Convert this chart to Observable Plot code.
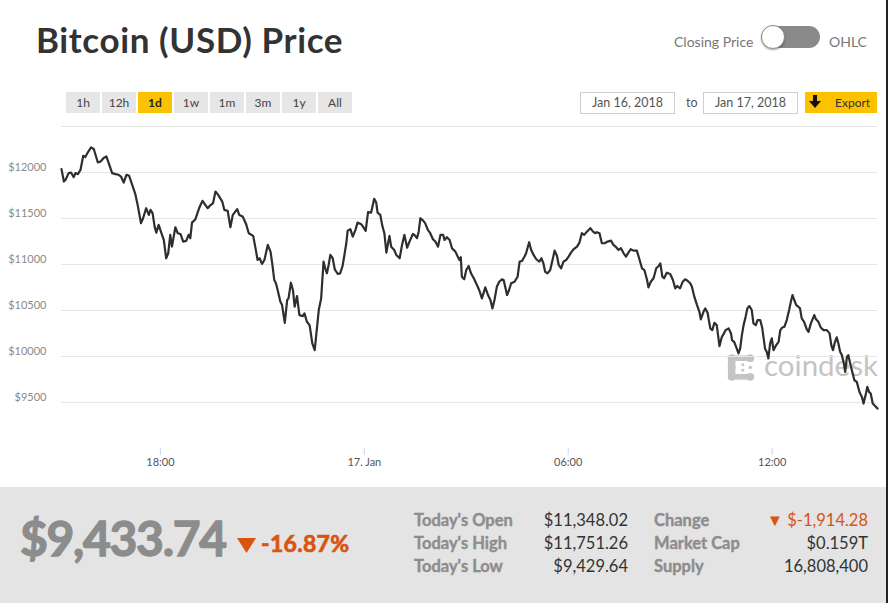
<!DOCTYPE html>
<html>
<head>
<meta charset="utf-8">
<script src="https://cdn.jsdelivr.net/npm/d3@7"></script>
<script src="https://cdn.jsdelivr.net/npm/@observablehq/plot@0.6"></script>
<style>
  body { margin: 0; background: #fff; }
  #page { position: relative; width: 888px; height: 603px; overflow: hidden; font-family: Lato, "Open Sans", sans-serif; background: #fff; }
  .abs { position: absolute; white-space: nowrap; }
  .btn { position: absolute; top: 92px; width: 34px; height: 21px; background: #e6e6e6; color: #444; font-size: 12px; line-height: 21px; text-align: center; }
  .btn.on { background: #fcc200; font-weight: 700; color: #222; }
  .datebox { position: absolute; top: 92px; height: 20px; border: 1px solid #cfcfcf; background: #fff; color: #555; font-size: 12.5px; line-height: 20px; text-align: center; }
  .lab { position: absolute; font-weight: 700; color: #8d8d8d; font-size: 16.5px; line-height: 20px; -webkit-text-stroke: 0.4px #8d8d8d; }
  .val { position: absolute; color: #333; font-size: 16.5px; line-height: 20px; text-align: right; }
  #chart { position: absolute; left: 0; top: 120px; z-index: 1; }
</style>
</head>
<body>
<div id="page">
  <div class="abs" style="left:36px;top:14px;font-size:35px;font-weight:700;color:#333;letter-spacing:0.6px;line-height:50px;">Bitcoin (USD) Price</div>

  <div class="abs" style="left:674px;top:33px;font-size:14px;color:#777;line-height:18px;">Closing Price</div>
  <div class="abs" style="left:762px;top:26px;width:58px;height:22px;border-radius:11px;background:#8a8a8a;"></div>
  <div class="abs" style="left:761px;top:25px;width:22px;height:22px;border-radius:12px;background:#fff;border:1px solid #8a8a8a;box-shadow:0 1px 2px rgba(0,0,0,0.35);"></div>
  <div class="abs" style="left:829px;top:33px;font-size:14px;color:#777;line-height:18px;">OHLC</div>

  <div id="buttons"></div>

  <div class="datebox" style="left:580px;width:93px;">Jan 16, 2018</div>
  <div class="abs" style="left:686px;top:93px;font-size:12.5px;color:#555;line-height:20px;">to</div>
  <div class="datebox" style="left:703px;width:93px;">Jan 17, 2018</div>
  <div class="abs" style="left:805px;top:92px;width:72px;height:21px;background:#fcc200;"></div>
  <svg class="abs" style="left:809px;top:95px;" width="12" height="14" viewBox="0 0 12 14">
    <rect x="4" y="0" width="4" height="7" fill="#111"/>
    <polygon points="0,6 12,6 6,13" fill="#111"/>
  </svg>
  <div class="abs" style="left:835px;top:92px;font-size:12px;color:#333;line-height:21px;">Export</div>

  <!-- watermark -->
  <svg class="abs" style="left:727px;top:353px;z-index:0;" width="28" height="29" viewBox="0 0 30 30">
    <g fill="#c4c4c4">
      <circle cx="5" cy="5" r="4.2"/><circle cx="25" cy="5" r="4.2"/>
      <rect x="5" y="2" width="20" height="6"/>
      <circle cx="5" cy="25" r="4.2"/><circle cx="25" cy="25" r="4.2"/>
      <rect x="5" y="22" width="20" height="6"/>
      <rect x="1" y="5" width="8" height="20" rx="3"/>
      <circle cx="5" cy="15" r="4.2"/>
      <circle cx="17" cy="12" r="1.6"/><circle cx="17" cy="18" r="1.6"/>
      <circle cx="25" cy="15" r="1.8"/>
    </g>
  </svg>
  <div class="abs" style="left:764px;top:346px;font-size:29.5px;color:#c4c4c4;line-height:38px;z-index:0;">coindesk</div>

  <div id="chart"></div>

  <!-- bottom panel -->
  <div class="abs" style="left:0;top:487px;width:886px;height:116px;background:#e4e4e4;"></div>
  <div class="abs" style="left:20px;top:508px;font-size:48px;font-weight:700;color:#8c8c8c;letter-spacing:-1.3px;line-height:60px;-webkit-text-stroke:1.3px #8c8c8c;">$9,433.74</div>
  <svg class="abs" style="left:237px;top:538px;" width="19" height="15" viewBox="0 0 19 15"><polygon points="0,0 19,0 9.5,15" fill="#d9540f"/></svg>
  <div class="abs" style="left:261px;top:528px;font-size:23px;font-weight:700;color:#d9540f;line-height:30px;letter-spacing:0.3px;-webkit-text-stroke:0.7px #d9540f;">-16.87%</div>

  <div id="stats"></div>

  <div class="abs" style="left:886px;top:0;width:2px;height:603px;background:#222;"></div>
</div>

<script>
// ---- data (hours since 2018-01-16 00:00 UTC, closing price in USD) ----
const hours = [
  15.09,15.16,15.21,15.30,15.37,15.45,15.50,15.57,15.65,15.73,
  15.79,15.87,15.96,16.04,16.16,16.24,16.33,16.41,16.48,16.58,
  16.68,16.77,16.84,16.92,17.00,17.08,17.17,17.26,17.33,17.43,
  17.49,17.58,17.66,17.71,17.77,17.83,17.88,17.95,18.03,18.10,
  18.17,18.23,18.29,18.34,18.44,18.51,18.59,18.67,18.76,18.83,
  18.88,18.93,19.03,19.15,19.24,19.32,19.39,19.45,19.55,19.62,
  19.70,19.82,19.88,19.98,20.06,20.13,20.26,20.32,20.42,20.52,
  20.60,
  20.65,20.73,20.79,20.86,20.92,20.99,21.06,21.16,21.24,21.29,
  21.35,21.40,21.45,21.53,21.58,21.66,21.73,21.77,21.84,21.90,
  21.95,22.02,22.09,22.19,22.24,22.31,22.39,22.47,22.54,22.61,
  22.66,22.73,22.80,22.85,22.90,22.95,23.00,23.07,23.13,23.22,
  23.29,23.36,23.41,23.47,23.51,23.59,23.66,23.74,23.80,23.90,
  23.96,24.04,24.11,24.20,24.24,24.29,24.35,24.39,24.47,24.53,
  24.59,24.65,24.69,24.74,24.79,24.88,24.94,25.04,25.11,25.18,
  25.26,25.33,25.43,25.50,25.55,25.60,25.65,25.73,25.79,25.87,
  25.94,26.02,26.09,26.17,26.24,26.32,26.36,26.43,26.51,26.58,
  26.68,26.74,26.80,
  26.84,26.87,26.94,27.00,27.07,27.14,27.22,27.29,27.38,27.46,
  27.56,27.64,27.71,27.77,27.83,27.90,27.97,28.05,28.10,28.20,
  28.26,28.32,28.42,28.51,28.57,28.64,28.71,28.76,28.85,28.91,
  28.98,29.06,29.15,29.21,29.27,29.32,29.39,29.47,29.55,29.60,
  29.67,29.72,29.79,29.86,29.94,30.01,30.08,30.16,30.26,30.33,
  30.40,30.47,30.55,30.65,30.73,30.79,30.84,30.92,30.99,31.07,
  31.16,31.26,31.33,31.41,31.48,31.55,31.63,31.70,31.77,31.84,
  31.92,32.02,32.10,32.17,32.24,32.32,32.36,32.43,32.51,32.59,
  32.66,32.71,32.77,32.82,32.90,33.00,
  33.08,33.15,33.21,33.29,33.37,33.44,33.51,33.59,33.64,33.71,
  33.79,33.86,33.90,33.98,34.03,34.10,34.18,34.24,34.30,34.37,
  34.45,34.52,34.57,34.63,34.72,34.79,34.82,34.88,34.94,35.01,
  35.06,35.11,35.16,35.22,35.27,35.33,35.40,35.45,35.52,35.57,
  35.65,35.71,35.79,35.84,35.89,35.94,35.99,36.04,36.12,36.19,
  36.24,36.30,36.36,36.43,36.50,36.55,36.60,36.65,36.71,36.77,
  36.82,36.87,36.94,37.02,37.07,37.14,37.24,37.29,37.36,37.43,
  37.51,37.61,37.69,37.74,37.79,37.85,37.90,37.95,38.00,38.05,
  38.10,38.15,38.20,38.24,38.32,38.37,38.42,38.49,38.57,38.64,
  38.69,38.76,38.80,38.85,38.90,38.96,39.03,39.10
];
const prices = [
  12037,11902,11921,11993,12000,11950,11993,11983,12029,12182,
  12168,12222,12272,12255,12109,12120,12157,12174,12102,11993,
  11983,11975,11956,11891,11975,11964,11866,11768,11648,11449,
  11503,11612,11539,11594,11558,11412,11347,11430,11340,11267,
  11068,11122,11322,11194,11405,11340,11332,11249,11256,11322,
  11286,11455,11493,11623,11692,11648,11612,11637,11667,11793,
  11757,11684,11594,11583,11405,11539,11601,11539,11521,11441,
  11340,
  11329,11311,11194,11049,11068,11006,11049,11213,11140,11013,
  10832,10796,10723,10595,10559,10366,10614,10632,10802,10723,
  10541,10657,10450,10439,10469,10377,10341,10142,10069,10323,
  10505,10632,11031,10959,10904,10995,11104,11068,10948,10897,
  10904,10984,11093,11231,11368,11384,11303,11376,11455,11441,
  11412,11365,11569,11564,11630,11714,11673,11564,11539,11420,
  11340,11129,11213,11311,11194,11158,11104,11068,11213,11322,
  11183,11249,11332,11311,11286,11357,11503,11477,11449,11376,
  11340,11275,11249,11194,11322,11322,11267,11297,11267,11177,
  11140,11093,11049,
  11079,10867,10839,10940,10984,10904,10850,10796,10723,10632,
  10752,10668,10614,10523,10614,10759,10813,10839,10832,10668,
  10723,10796,10813,10867,11031,11038,11085,11122,11242,11158,
  11104,11057,11031,11068,11013,10922,10904,10940,11068,11151,
  11093,10995,10959,11031,11049,11085,11129,11166,11194,11238,
  11340,11322,11357,11395,11357,11340,11351,11340,11231,11231,
  11249,11259,11213,11188,11158,11177,11122,11085,11129,11166,
  11151,11151,11049,10959,10940,10832,10752,10813,10850,10959,
  10984,11013,10867,10850,10911,10897,
  10832,10741,10766,10741,10813,10839,10824,10796,10759,10650,
  10559,10486,10404,10486,10523,10475,10306,10287,10366,10341,
  10113,10214,10243,10287,10306,10251,10178,10160,10105,10033,
  10088,10233,10341,10432,10523,10548,10505,10360,10341,10396,
  10396,10306,10088,10051,9979,10142,10197,10069,10124,10160,
  10287,10316,10323,10396,10505,10595,10668,10614,10559,10541,
  10523,10414,10377,10295,10268,10360,10450,10404,10377,10316,
  10287,10287,10251,10124,10069,10160,10208,10142,10051,10015,
  9942,9833,9996,10015,9887,9815,9742,9724,9615,9561,
  9489,9598,9670,9615,9598,9489,9463,9433.74
];
const yTicks = [9500, 10000, 10500, 11000, 11500, 12000];
const yGrid = [9500, 10000, 10500, 11000, 11500, 12000, 12500];
const yDomain = [9000, 12500];
const xTickHours = [18, 24, 30, 36];
const xTickLabels = ["18:00", "17. Jan", "06:00", "12:00"];
const rangeButtons = ["1h", "12h", "1d", "1w", "1m", "3m", "1y", "All"];
const activeButton = "1d";
const statLabelsLeft = ["Today's Open", "Today's High", "Today's Low"];
const statValuesLeft = ["$11,348.02", "$11,751.26", "$9,429.64"];
const statLabelsRight = ["Change", "Market Cap", "Supply"];
const statValuesRight = ["▼ $-1,914.28", "$0.159T", "16,808,400"];

// ---- build ----
const base = Date.UTC(2018, 0, 16);
const toDate = h => new Date(base + h * 3600000);
const data = hours.map((h, i) => ({t: toDate(h), p: prices[i]}));
const tickDates = xTickHours.map(toDate);
const labelByTime = new Map(tickDates.map((d, i) => [d.getTime(), xTickLabels[i]]));

const btnHost = document.getElementById("buttons");
rangeButtons.forEach((b, i) => {
  const el = document.createElement("div");
  el.className = "btn" + (b === activeButton ? " on" : "");
  el.style.left = (66 + i * 36) + "px";
  el.textContent = b;
  btnHost.appendChild(el);
});

const stats = document.getElementById("stats");
const rowTops = [510, 533, 556];
statLabelsLeft.forEach((t, i) => {
  stats.insertAdjacentHTML("beforeend",
    `<div class="lab" style="left:414px;top:${rowTops[i]}px">${t}</div>` +
    `<div class="val" style="left:528px;width:100px;top:${rowTops[i]}px">${statValuesLeft[i]}</div>` +
    `<div class="lab" style="left:654px;top:${rowTops[i]}px">${statLabelsRight[i]}</div>` +
    `<div class="val" style="left:748px;width:120px;top:${rowTops[i]}px;${i === 0 ? "color:#d9540f" : ""}">${statValuesRight[i]}</div>`);
});

const chart = Plot.plot({
  width: 888,
  height: 360,
  marginLeft: 61,
  marginRight: 11,
  marginTop: 6,
  marginBottom: 32,
  style: {background: "transparent", fontFamily: "Lato, 'Open Sans', sans-serif", fontSize: "11px", color: "#666"},
  x: {type: "utc", domain: [toDate(hours[0]), toDate(hours[hours.length - 1])]},
  y: {domain: yDomain},
  marks: [
    Plot.gridY(yGrid, {stroke: "#e6e6e6", strokeOpacity: 1}),
    Plot.axisY(yTicks, {tickSize: 0, tickPadding: 15, dy: -5, tickFormat: d => "$" + d, fill: "#8a8a8a", label: null}),
    Plot.axisX(tickDates, {tickSize: 7, tickPadding: 3, stroke: "#ccd6eb", tickFormat: d => labelByTime.get(d.getTime()), fill: "#555", label: null}),
    Plot.line(data, {x: "t", y: "p", stroke: "#2e2e2e", strokeWidth: 2.2, strokeLinejoin: "round"})
  ]
});
document.getElementById("chart").appendChild(chart);
</script>
</body>
</html>
